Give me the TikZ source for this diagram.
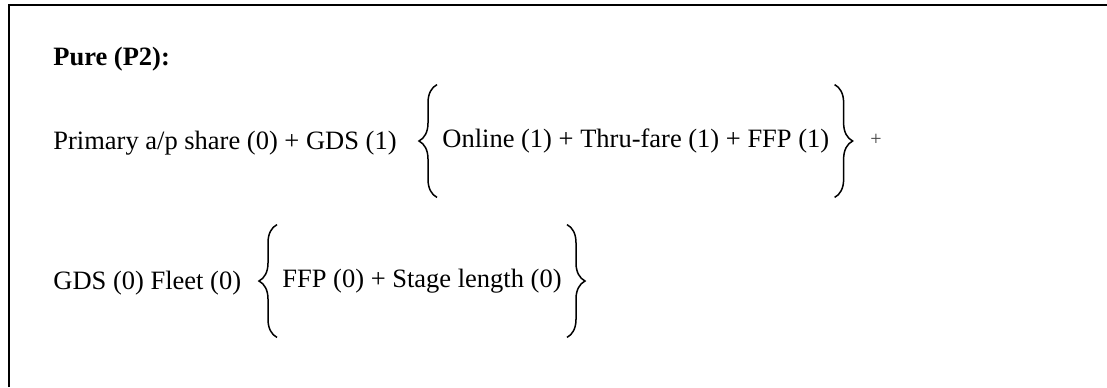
\documentclass[tikz,border=0pt]{standalone}
\usepackage{fontspec}
\setmainfont{Liberation Serif}
\usetikzlibrary{decorations.pathreplacing}
\tikzset{termtext/.style={inner sep=0pt,font=\fontsize{13.25}{16}\selectfont},groupbox/.style={termtext,inner xsep=2.5pt,minimum height=56pt},curlbrace/.style={decorate,decoration={brace,amplitude=9pt},line width=0.75pt},framebox/.style={line width=1pt},plusmark/.style={inner sep=0pt,font=\fontsize{10}{12}\selectfont,text=black!75}}
\begin{document}
\begin{tikzpicture}[x=0.5pt,y=-0.5pt]
\useasboundingbox (0,0) rectangle (1107,387);
\draw[framebox] (9,387) -- (9,5) -- (1107,5);
\node[termtext,font=\fontsize{13.25}{16}\selectfont\bfseries,anchor=base west] (pure) at (53,65) {Pure (P2):};
\node[termtext,anchor=base west] (prim) at (53,149) {Primary a/p share (0) + GDS (1)};
\node[groupbox,anchor=west] (online) at (437,141) {Online (1) + Thru-fare (1) + FFP (1)};
\draw[curlbrace] (online.south west) -- (online.north west);
\draw[curlbrace] (online.north east) -- (online.south east);
\node[plusmark] (plus) at (876,140) {+};
\node[termtext,anchor=base west] (gds) at (53,289) {GDS (0) Fleet (0)};
\node[groupbox,anchor=west] (ffp) at (277,281) {FFP (0) + Stage length (0)};
\draw[curlbrace] (ffp.south west) -- (ffp.north west);
\draw[curlbrace] (ffp.north east) -- (ffp.south east);
\end{tikzpicture}
\end{document}
